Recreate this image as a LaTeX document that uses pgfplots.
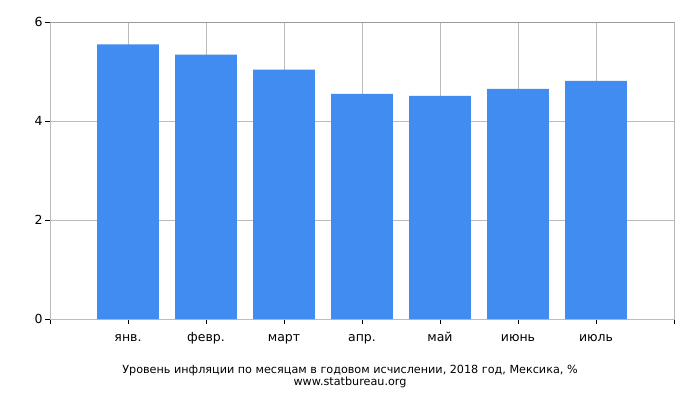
\documentclass[border=0pt]{standalone}
\usepackage{fontspec}
\setmainfont{DejaVu Sans}
\usepackage{pgfplots}
\pgfplotsset{compat=1.18}
\definecolor{barblue}{RGB}{65,140,240}
\definecolor{gridgray}{RGB}{188,188,188}
\definecolor{boxgray}{RGB}{155,155,155}
\begin{document}
\begin{tikzpicture}
  \path[use as bounding box] (-50pt,-81pt) rectangle (650pt,319pt);
  \begin{axis}[
      at={(0,0)}, anchor=south west,
      scale only axis,
      width=624pt, height=297pt,
      xmin=0, xmax=8,
      ymin=0, ymax=6,
      xtick={0,...,8},
      xticklabels={,янв.,февр.,март,апр.,май,июнь,июль,},
      ytick={0,2,4,6},
      xtick pos=bottom, ytick pos=left,
      tick align=outside,
      major tick length=5pt,
      major tick style={black, line width=0.8pt},
      grid=major,
      grid style={gridgray, line width=0.8pt},
      axis line style={gridgray, line width=0.8pt},
      ticklabel style={font=\fontsize{12.5}{14}\selectfont},
      /pgf/number format/assume math mode=true,
      xticklabel style={text height=9pt, text depth=3pt, yshift=-5pt},
      yticklabel style={xshift=1pt},
    ]
    \addplot[ybar, bar width=0.79, fill=barblue, draw=none] coordinates {
      (1,5.55)(2,5.34)(3,5.04)(4,4.55)(5,4.51)(6,4.65)(7,4.81)
    };
    \draw[boxgray, line width=0.8pt] (rel axis cs:0,1) -- (rel axis cs:1,1) -- (rel axis cs:1,0);
  \end{axis}
  \node[font=\fontsize{11.2}{12}\selectfont] at (300pt,-52pt) {Уровень инфляции по месяцам в годовом исчислении, 2018 год, Мексика, \%};
  \node[font=\fontsize{11.2}{12}\selectfont] at (300pt,-63pt) {www.statbureau.org};
\end{tikzpicture}
\end{document}
